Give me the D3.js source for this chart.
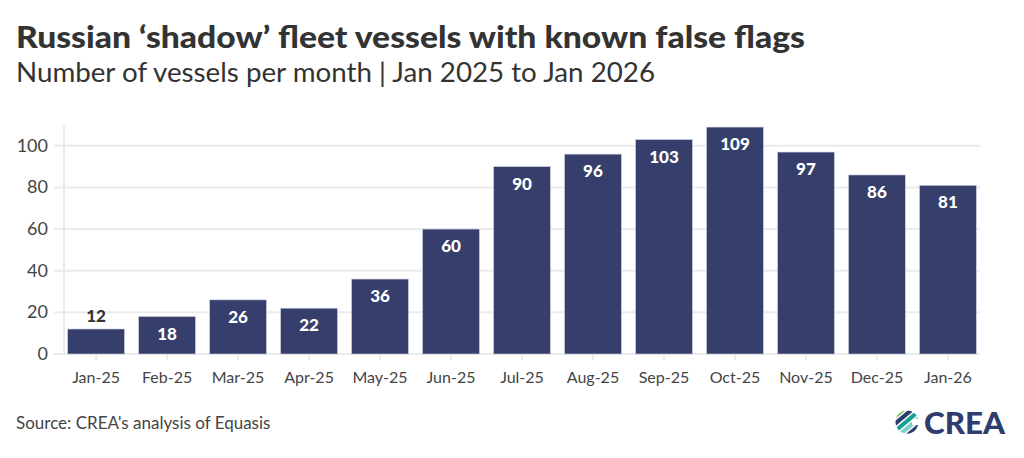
<!DOCTYPE html>
<html>
<head>
<meta charset="utf-8">
<title>Russian shadow fleet</title>
<style>
  body { margin:0; background:#fff; }
  svg { display:block; font-family: "Lato", "Open Sans", sans-serif; }
</style>
</head>
<body>
<svg id="chart" width="1024" height="458"></svg>
<script src="https://d3js.org/d3.v7.min.js"></script>
<script>
// data
var months = ["Jan-25","Feb-25","Mar-25","Apr-25","May-25","Jun-25","Jul-25","Aug-25","Sep-25","Oct-25","Nov-25","Dec-25","Jan-26"];
var vessels = [12,18,26,22,36,60,90,96,103,109,97,86,81];
var yTicks = [0,20,40,60,80,100];

var svg = d3.select("#chart");
var barColor = "#363f6b";

// titulos
svg.append("text").attr("x",16).attr("y",48)
  .attr("font-size",31).attr("font-weight",900).attr("fill","#333")
  .attr("textLength",789).attr("lengthAdjust","spacingAndGlyphs")
  .text("Russian \u2018shadow\u2019 fleet vessels with known false flags");
svg.append("text").attr("x",16).attr("y",82)
  .attr("font-size",27).attr("fill","#333")
  .attr("textLength",639).attr("lengthAdjust","spacingAndGlyphs")
  .text("Number of vessels per month | Jan 2025 to Jan 2026");

var x = d3.scaleBand().domain(months).range([62, 982]).paddingInner(0.2).paddingOuter(0.08);
var y = d3.scaleLinear().domain([0,110]).range([354, 125]);

var g = svg.append("g");

// grid
g.selectAll(".grid").data(yTicks).enter().append("line")
  .attr("x1",54).attr("x2",980)
  .attr("y1",function(d){ return y(d); }).attr("y2",function(d){ return y(d); })
  .attr("stroke","#ebebeb").attr("stroke-width",2);
g.append("line").attr("x1",64).attr("x2",64).attr("y1",y(110)).attr("y2",y(0))
  .attr("stroke","#ebebeb").attr("stroke-width",2);

// y labels
g.selectAll(".ylab").data(yTicks).enter().append("text")
  .attr("x",48).attr("y",function(d){ return y(d)+6; })
  .attr("text-anchor","end").attr("font-size",18).attr("fill","#444")
  .text(function(d){ return d; });

// x ticks
g.selectAll(".xt").data(months).enter().append("line")
  .attr("x1",function(d){ return x(d)+x.bandwidth()/2; })
  .attr("x2",function(d){ return x(d)+x.bandwidth()/2; })
  .attr("y1",y(0)).attr("y2",y(0)+6)
  .attr("stroke","#ebebeb").attr("stroke-width",2);
g.selectAll(".xlab").data(months).enter().append("text")
  .attr("x",function(d){ return x(d)+x.bandwidth()/2; })
  .attr("y",383).attr("text-anchor","middle")
  .attr("font-size",16).attr("fill","#444")
  .text(function(d){ return d; });

// barras
g.selectAll("rect.bar").data(vessels).enter().append("rect")
  .attr("class","bar")
  .attr("x",function(d,i){ return x(months[i]); })
  .attr("y",function(d){ return y(d); })
  .attr("width",x.bandwidth())
  .attr("height",function(d){ return y(0)-y(d); })
  .attr("fill",barColor).attr("stroke","#c9cce0").attr("stroke-width",0.6);

// etiquetas
g.selectAll("text.val").data(vessels).enter().append("text")
  .attr("class","val")
  .attr("x",function(d,i){ return x(months[i])+x.bandwidth()/2; })
  .attr("y",function(d){ return d < 15 ? y(d)-7 : y(d)+23; })
  .attr("text-anchor","middle").attr("font-size",17).attr("font-weight",900)
  .attr("fill",function(d){ return d < 15 ? "#333" : "#fff"; })
  .text(function(d){ return d; });

// fuente
svg.append("text").attr("x",16).attr("y",429)
  .attr("font-size",17).attr("fill","#444")
  .text("Source: CREA's analysis of Equasis");

// logo
var logo = svg.append("g").attr("transform","translate(907,422)");
var defs = svg.append("defs");
defs.append("clipPath").attr("id","lc").append("circle").attr("r",11.5);
var lg = logo.append("g").attr("clip-path","url(#lc)");
var stripes = ["#6cc04a","#2f3c6e","#17a394","#7fd0c8","#2f3c6e"];
stripes.forEach(function(c,i){
  lg.append("rect").attr("x",-16).attr("y",-14+i*5.6).attr("width",32).attr("height",4.2)
    .attr("fill",c).attr("transform","rotate(-40)");
});
logo.append("rect").attr("x",5).attr("y",-3).attr("width",8).attr("height",6).attr("fill","#fff");
svg.append("text").attr("x",924).attr("y",434)
  .attr("font-size",31).attr("font-weight",900).attr("fill","#2f3c6e")
  .attr("font-family","Lato, sans-serif")
  .attr("textLength",81).attr("lengthAdjust","spacingAndGlyphs")
  .text("CREA");
</script>
</body>
</html>
